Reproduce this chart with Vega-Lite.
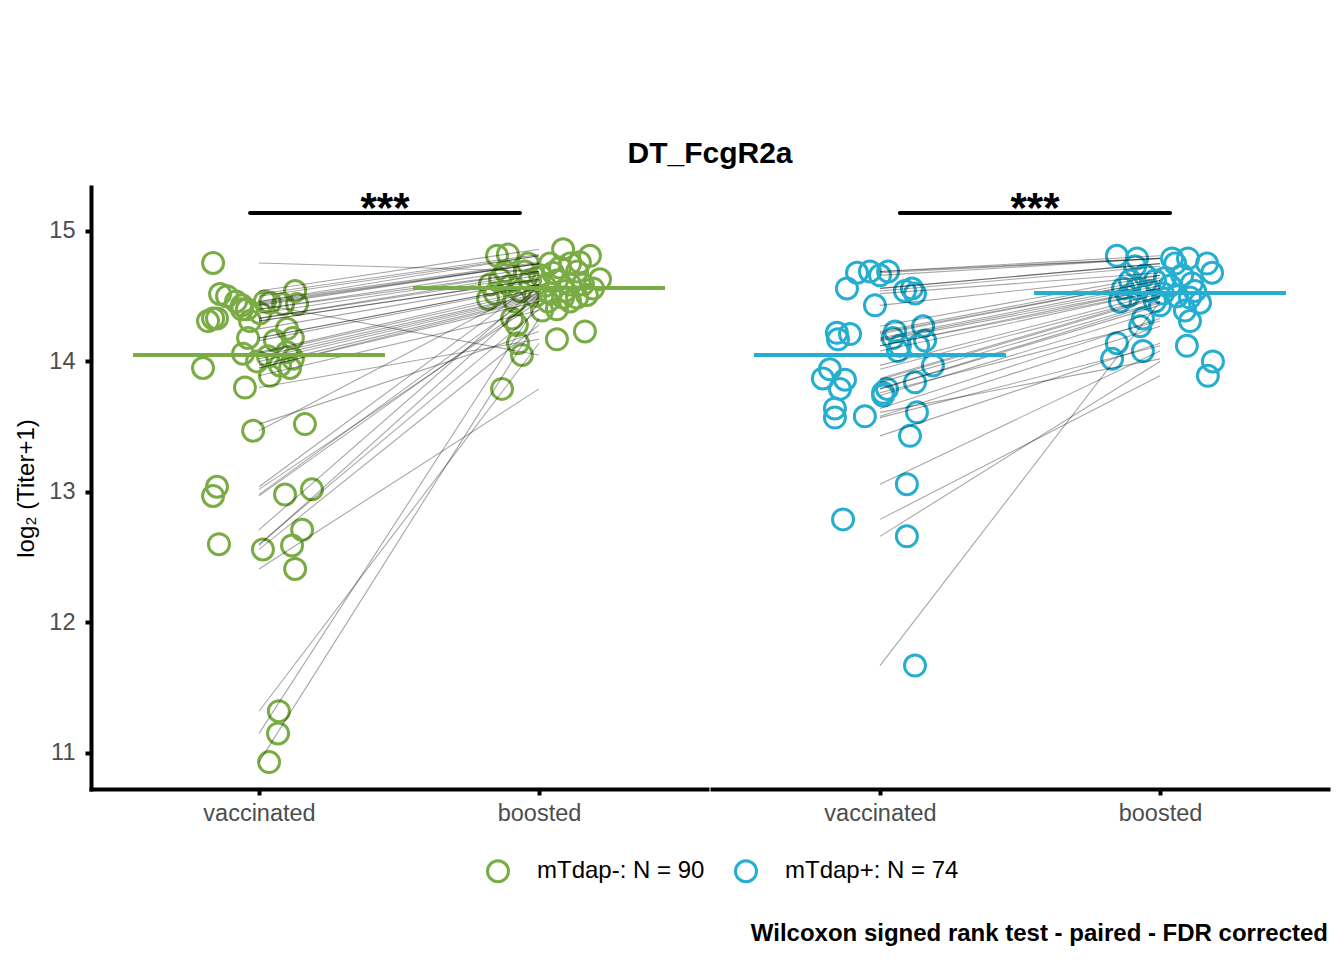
{
  "$schema": "https://vega.github.io/schema/vega-lite/v6.json",
  "autosize": {"type": "pad"},
  "padding": {"left": 14, "top": 139, "right": 16, "bottom": 10},
  "background": "white",
  "title": {
    "text": "DT_FcgR2a",
    "anchor": "middle",
    "frame": "group",
    "dx": 619,
    "fontSize": 30,
    "fontWeight": "bold",
    "color": "black",
    "offset": 18
  },
  "config": {
    "font": "Liberation Sans",
    "view": {"stroke": null},
    "axis": {
      "grid": false,
      "domainColor": "black",
      "domainWidth": 4,
      "domainCap": "square",
      "tickColor": "black",
      "tickWidth": 4,
      "tickSize": 6,
      "labelFontSize": 23.5,
      "labelColor": "#4D4D4D",
      "titleFontSize": 24,
      "titleFontWeight": "normal",
      "titleColor": "black"
    }
  },
  "datasets": {
    "pairs": [
      {"group": "mTdap-", "vaccinated": 10.93, "jit_v": 0.036, "boosted": 14.33, "jit_b": -0.096},
      {"group": "mTdap-", "vaccinated": 11.15, "jit_v": 0.068, "boosted": 14.46, "jit_b": 0.111},
      {"group": "mTdap-", "vaccinated": 11.32, "jit_v": 0.071, "boosted": 14.14, "jit_b": -0.075},
      {"group": "mTdap-", "vaccinated": 12.41, "jit_v": 0.129, "boosted": 13.79, "jit_b": -0.132},
      {"group": "mTdap-", "vaccinated": 12.56, "jit_v": 0.014, "boosted": 14.28, "jit_b": -0.079},
      {"group": "mTdap-", "vaccinated": 12.59, "jit_v": 0.118, "boosted": 14.52, "jit_b": 0.039},
      {"group": "mTdap-", "vaccinated": 12.60, "jit_v": -0.143, "boosted": 14.40, "jit_b": 0.064},
      {"group": "mTdap-", "vaccinated": 12.71, "jit_v": 0.154, "boosted": 14.58, "jit_b": -0.104},
      {"group": "mTdap-", "vaccinated": 12.97, "jit_v": -0.164, "boosted": 14.49, "jit_b": 0.086},
      {"group": "mTdap-", "vaccinated": 12.98, "jit_v": 0.093, "boosted": 14.54, "jit_b": -0.068},
      {"group": "mTdap-", "vaccinated": 13.02, "jit_v": 0.189, "boosted": 14.46, "jit_b": -0.086},
      {"group": "mTdap-", "vaccinated": 13.04, "jit_v": -0.15, "boosted": 14.62, "jit_b": 0.064},
      {"group": "mTdap-", "vaccinated": 13.47, "jit_v": -0.021, "boosted": 14.59, "jit_b": 0.111},
      {"group": "mTdap-", "vaccinated": 13.52, "jit_v": 0.164, "boosted": 14.23, "jit_b": 0.164},
      {"group": "mTdap-", "vaccinated": 13.80, "jit_v": -0.05, "boosted": 14.17, "jit_b": 0.064},
      {"group": "mTdap-", "vaccinated": 14.755, "jit_v": -0.164, "boosted": 14.69, "jit_b": -0.121},
      {"group": "mTdap-", "vaccinated": 14.54, "jit_v": 0.129, "boosted": 14.86, "jit_b": 0.086},
      {"group": "mTdap-", "vaccinated": 14.517, "jit_v": -0.139, "boosted": 14.82, "jit_b": -0.111},
      {"group": "mTdap-", "vaccinated": 14.50, "jit_v": -0.114, "boosted": 14.81, "jit_b": -0.15},
      {"group": "mTdap-", "vaccinated": 14.46, "jit_v": -0.082, "boosted": 14.81, "jit_b": 0.182},
      {"group": "mTdap-", "vaccinated": 14.46, "jit_v": 0.021, "boosted": 14.76, "jit_b": 0.146},
      {"group": "mTdap-", "vaccinated": 14.45, "jit_v": 0.039, "boosted": 14.75, "jit_b": 0.039},
      {"group": "mTdap-", "vaccinated": 14.44, "jit_v": 0.086, "boosted": 14.05, "jit_b": -0.061},
      {"group": "mTdap-", "vaccinated": 14.44, "jit_v": 0.136, "boosted": 14.75, "jit_b": 0.111},
      {"group": "mTdap-", "vaccinated": 14.43, "jit_v": -0.061, "boosted": 14.75, "jit_b": -0.039},
      {"group": "mTdap-", "vaccinated": 14.40, "jit_v": -0.061, "boosted": 14.72, "jit_b": 0.075},
      {"group": "mTdap-", "vaccinated": 14.40, "jit_v": -0.043, "boosted": 14.69, "jit_b": 0.136},
      {"group": "mTdap-", "vaccinated": 14.37, "jit_v": 0.004, "boosted": 14.69, "jit_b": -0.05},
      {"group": "mTdap-", "vaccinated": 14.33, "jit_v": -0.164, "boosted": 14.68, "jit_b": 0.05},
      {"group": "mTdap-", "vaccinated": 14.33, "jit_v": -0.15, "boosted": 14.66, "jit_b": 0.004},
      {"group": "mTdap-", "vaccinated": 14.31, "jit_v": -0.182, "boosted": 14.63, "jit_b": -0.139},
      {"group": "mTdap-", "vaccinated": 14.31, "jit_v": -0.032, "boosted": 14.63, "jit_b": 0.218},
      {"group": "mTdap-", "vaccinated": 14.25, "jit_v": 0.10, "boosted": 14.62, "jit_b": -0.032},
      {"group": "mTdap-", "vaccinated": 14.18, "jit_v": 0.121, "boosted": 14.59, "jit_b": 0.157},
      {"group": "mTdap-", "vaccinated": 14.18, "jit_v": -0.039, "boosted": 14.59, "jit_b": -0.175},
      {"group": "mTdap-", "vaccinated": 14.16, "jit_v": 0.057, "boosted": 14.58, "jit_b": 0.021},
      {"group": "mTdap-", "vaccinated": 14.07, "jit_v": 0.10, "boosted": 14.56, "jit_b": 0.193},
      {"group": "mTdap-", "vaccinated": 14.06, "jit_v": -0.057, "boosted": 14.54, "jit_b": 0.093},
      {"group": "mTdap-", "vaccinated": 14.04, "jit_v": 0.032, "boosted": 14.52, "jit_b": -0.157},
      {"group": "mTdap-", "vaccinated": 14.02, "jit_v": 0.121, "boosted": 14.51, "jit_b": 0.171},
      {"group": "mTdap-", "vaccinated": 14.00, "jit_v": -0.007, "boosted": 14.50, "jit_b": -0.014},
      {"group": "mTdap-", "vaccinated": 13.97, "jit_v": 0.075, "boosted": 14.49, "jit_b": 0.136},
      {"group": "mTdap-", "vaccinated": 13.95, "jit_v": -0.20, "boosted": 14.48, "jit_b": -0.182},
      {"group": "mTdap-", "vaccinated": 13.95, "jit_v": 0.111, "boosted": 14.46, "jit_b": 0.032},
      {"group": "mTdap-", "vaccinated": 13.89, "jit_v": 0.039, "boosted": 14.39, "jit_b": 0.011},
      {"group": "mTdap+", "vaccinated": 11.67, "jit_v": 0.125, "boosted": 14.46, "jit_b": -0.143},
      {"group": "mTdap+", "vaccinated": 12.66, "jit_v": 0.096, "boosted": 14.00, "jit_b": 0.189},
      {"group": "mTdap+", "vaccinated": 12.79, "jit_v": -0.132, "boosted": 13.89, "jit_b": 0.171},
      {"group": "mTdap+", "vaccinated": 13.06, "jit_v": 0.096, "boosted": 14.08, "jit_b": -0.061},
      {"group": "mTdap+", "vaccinated": 13.43, "jit_v": 0.107, "boosted": 14.14, "jit_b": -0.154},
      {"group": "mTdap+", "vaccinated": 13.57, "jit_v": -0.161, "boosted": 14.12, "jit_b": 0.096},
      {"group": "mTdap+", "vaccinated": 13.58, "jit_v": -0.054, "boosted": 14.27, "jit_b": -0.071},
      {"group": "mTdap+", "vaccinated": 13.61, "jit_v": 0.132, "boosted": 14.02, "jit_b": -0.171},
      {"group": "mTdap+", "vaccinated": 13.64, "jit_v": -0.161, "boosted": 14.33, "jit_b": -0.061},
      {"group": "mTdap+", "vaccinated": 13.74, "jit_v": 0.011, "boosted": 14.39, "jit_b": 0.089},
      {"group": "mTdap+", "vaccinated": 13.76, "jit_v": 0.011, "boosted": 14.31, "jit_b": 0.107},
      {"group": "mTdap+", "vaccinated": 13.79, "jit_v": -0.143, "boosted": 14.43, "jit_b": 0.0},
      {"group": "mTdap+", "vaccinated": 13.79, "jit_v": 0.025, "boosted": 14.45, "jit_b": 0.143},
      {"group": "mTdap+", "vaccinated": 13.84, "jit_v": 0.125, "boosted": 14.46, "jit_b": -0.018},
      {"group": "mTdap+", "vaccinated": 13.86, "jit_v": -0.125, "boosted": 14.49, "jit_b": 0.107},
      {"group": "mTdap+", "vaccinated": 13.87, "jit_v": -0.204, "boosted": 14.50, "jit_b": 0.061},
      {"group": "mTdap+", "vaccinated": 13.94, "jit_v": -0.179, "boosted": 14.50, "jit_b": -0.114},
      {"group": "mTdap+", "vaccinated": 13.97, "jit_v": 0.189, "boosted": 14.52, "jit_b": 0.011},
      {"group": "mTdap+", "vaccinated": 14.08, "jit_v": 0.064, "boosted": 14.54, "jit_b": -0.036},
      {"group": "mTdap+", "vaccinated": 14.12, "jit_v": 0.071, "boosted": 14.54, "jit_b": 0.125},
      {"group": "mTdap+", "vaccinated": 14.12, "jit_v": 0.136, "boosted": 14.56, "jit_b": -0.132},
      {"group": "mTdap+", "vaccinated": 14.16, "jit_v": 0.161, "boosted": 14.56, "jit_b": -0.082},
      {"group": "mTdap+", "vaccinated": 14.17, "jit_v": -0.15, "boosted": 14.58, "jit_b": 0.036},
      {"group": "mTdap+", "vaccinated": 14.18, "jit_v": 0.046, "boosted": 14.60, "jit_b": 0.114},
      {"group": "mTdap+", "vaccinated": 14.21, "jit_v": -0.107, "boosted": 14.62, "jit_b": -0.107},
      {"group": "mTdap+", "vaccinated": 14.22, "jit_v": -0.154, "boosted": 14.62, "jit_b": -0.018},
      {"group": "mTdap+", "vaccinated": 14.23, "jit_v": 0.054, "boosted": 14.64, "jit_b": 0.018},
      {"group": "mTdap+", "vaccinated": 14.27, "jit_v": 0.154, "boosted": 14.66, "jit_b": 0.079},
      {"group": "mTdap+", "vaccinated": 14.43, "jit_v": -0.018, "boosted": 14.66, "jit_b": -0.054},
      {"group": "mTdap+", "vaccinated": 14.52, "jit_v": 0.125, "boosted": 14.68, "jit_b": 0.186},
      {"group": "mTdap+", "vaccinated": 14.54, "jit_v": 0.089, "boosted": 14.73, "jit_b": -0.089},
      {"group": "mTdap+", "vaccinated": 14.56, "jit_v": -0.118, "boosted": 14.75, "jit_b": 0.168},
      {"group": "mTdap+", "vaccinated": 14.56, "jit_v": 0.114, "boosted": 14.75, "jit_b": 0.054},
      {"group": "mTdap+", "vaccinated": 14.66, "jit_v": 0.0, "boosted": 14.79, "jit_b": -0.082},
      {"group": "mTdap+", "vaccinated": 14.68, "jit_v": -0.082, "boosted": 14.79, "jit_b": 0.043},
      {"group": "mTdap+", "vaccinated": 14.69, "jit_v": 0.029, "boosted": 14.79, "jit_b": 0.10},
      {"group": "mTdap+", "vaccinated": 14.69, "jit_v": -0.036, "boosted": 14.81, "jit_b": -0.154}
    ],
    "medians": [
      {"group": "mTdap-", "time": 1, "median": 14.05},
      {"group": "mTdap-", "time": 2, "median": 14.563},
      {"group": "mTdap+", "time": 1, "median": 14.05},
      {"group": "mTdap+", "time": 2, "median": 14.525}
    ],
    "signif": [
      {"group": "mTdap-", "from": 0.968, "to": 1.932, "y": 15.138, "label": "***"},
      {"group": "mTdap+", "from": 1.071, "to": 2.036, "y": 15.138, "label": "***"}
    ]
  },
  "spacing": 5,
  "hconcat": [
    {
      "width": 616,
      "height": 602,
      "layer": [
        {
          "data": {"name": "pairs"},
          "transform": [
            {"filter": "datum.group === 'mTdap-'"},
            {"calculate": "1 + datum.jit_v", "as": "xpos"}
          ],
          "mark": {"type": "point", "shape": "circle", "filled": false, "size": 441, "strokeWidth": 3, "opacity": 1},
          "encoding": {
            "x": {
              "field": "xpos", "type": "quantitative",
              "scale": {"domain": [0.4, 2.6], "nice": false, "zero": false},
              "axis": {"values": [1, 2], "labelExpr": "datum.value == 1 ? 'vaccinated' : 'boosted'", "title": null, "labelPadding": 6}
            },
            "y": {
              "field": "vaccinated", "type": "quantitative",
              "scale": {"domain": [10.724, 15.337], "nice": false, "zero": false},
              "axis": {"values": [11, 12, 13, 14, 15], "format": "d", "title": "log₂ (Titer+1)", "labelPadding": 10, "titlePadding": 10}
            },
            "color": {
              "field": "group", "type": "nominal",
              "scale": {"domain": ["mTdap-", "mTdap+"], "range": ["#79AC44", "#25AECF"]},
              "legend": {
                "title": null,
                "orient": "none",
                "direction": "horizontal",
                "legendX": 395,
                "legendY": 672,
                "symbolType": "circle",
                "symbolSize": 441,
                "symbolStrokeWidth": 3,
                "labelFontSize": 24,
                "labelColor": "black",
                "labelLimit": 400,
                "labelOffset": 27,
                "columnPadding": 24,
                "labelExpr": "datum.label == 'mTdap-' ? 'mTdap-: N = 90' : 'mTdap+: N = 74'"
              }
            }
          }
        },
        {
          "data": {"name": "pairs"},
          "transform": [
            {"filter": "datum.group === 'mTdap-'"},
            {"calculate": "2 + datum.jit_b", "as": "xpos"}
          ],
          "mark": {"type": "point", "shape": "circle", "filled": false, "size": 441, "strokeWidth": 3, "opacity": 1},
          "encoding": {
            "x": {"field": "xpos", "type": "quantitative"},
            "y": {"field": "boosted", "type": "quantitative"},
            "color": {"field": "group", "type": "nominal"}
          }
        },
        {
          "data": {"name": "pairs"},
          "transform": [{"filter": "datum.group === 'mTdap-'"}],
          "mark": {"type": "rule", "color": "black", "opacity": 0.35, "strokeWidth": 1.1},
          "encoding": {
            "x": {"datum": 1, "type": "quantitative"},
            "x2": {"datum": 2},
            "y": {"field": "vaccinated", "type": "quantitative"},
            "y2": {"field": "boosted"}
          }
        },
        {
          "data": {"name": "medians"},
          "transform": [
            {"filter": "datum.group === 'mTdap-'"},
            {"calculate": "datum.time - 0.45", "as": "lo"},
            {"calculate": "datum.time + 0.45", "as": "hi"}
          ],
          "mark": {"type": "rule", "color": "#79AC44", "strokeWidth": 4},
          "encoding": {
            "x": {"field": "lo", "type": "quantitative"},
            "x2": {"field": "hi"},
            "y": {"field": "median", "type": "quantitative"}
          }
        },
        {
          "data": {"name": "signif"},
          "transform": [{"filter": "datum.group === 'mTdap-'"}],
          "mark": {"type": "rule", "color": "black", "strokeWidth": 4, "strokeCap": "round"},
          "encoding": {
            "x": {"field": "from", "type": "quantitative"},
            "x2": {"field": "to"},
            "y": {"field": "y", "type": "quantitative"}
          }
        },
        {
          "data": {"name": "signif"},
          "transform": [
            {"filter": "datum.group === 'mTdap-'"},
            {"calculate": "(datum.from + datum.to) / 2", "as": "mid"}
          ],
          "mark": {"type": "text", "fontSize": 42, "fontWeight": "bold", "baseline": "alphabetic", "dy": 9, "color": "black"},
          "encoding": {
            "x": {"field": "mid", "type": "quantitative"},
            "y": {"field": "y", "type": "quantitative"},
            "text": {"field": "label"}
          }
        }
      ]
    },
    {
      "width": 616,
      "height": 602,
      "title": {
        "text": "Wilcoxon signed rank test - paired - FDR corrected",
        "orient": "bottom",
        "anchor": "end",
        "frame": "group",
        "fontSize": 24,
        "fontWeight": "bold",
        "color": "black",
        "offset": 97
      },
      "layer": [
        {
          "data": {"name": "pairs"},
          "transform": [
            {"filter": "datum.group === 'mTdap+'"},
            {"calculate": "1 + datum.jit_v", "as": "xpos"}
          ],
          "mark": {"type": "point", "shape": "circle", "filled": false, "size": 441, "strokeWidth": 3, "opacity": 1},
          "encoding": {
            "x": {
              "field": "xpos", "type": "quantitative",
              "scale": {"domain": [0.4, 2.6], "nice": false, "zero": false},
              "axis": {"values": [1, 2], "labelExpr": "datum.value == 1 ? 'vaccinated' : 'boosted'", "title": null, "labelPadding": 6}
            },
            "y": {
              "field": "vaccinated", "type": "quantitative",
              "scale": {"domain": [10.724, 15.337], "nice": false, "zero": false},
              "axis": null
            },
            "color": {"field": "group", "type": "nominal"}
          }
        },
        {
          "data": {"name": "pairs"},
          "transform": [
            {"filter": "datum.group === 'mTdap+'"},
            {"calculate": "2 + datum.jit_b", "as": "xpos"}
          ],
          "mark": {"type": "point", "shape": "circle", "filled": false, "size": 441, "strokeWidth": 3, "opacity": 1},
          "encoding": {
            "x": {"field": "xpos", "type": "quantitative"},
            "y": {"field": "boosted", "type": "quantitative"},
            "color": {"field": "group", "type": "nominal"}
          }
        },
        {
          "data": {"name": "pairs"},
          "transform": [{"filter": "datum.group === 'mTdap+'"}],
          "mark": {"type": "rule", "color": "black", "opacity": 0.35, "strokeWidth": 1.1},
          "encoding": {
            "x": {"datum": 1, "type": "quantitative"},
            "x2": {"datum": 2},
            "y": {"field": "vaccinated", "type": "quantitative"},
            "y2": {"field": "boosted"}
          }
        },
        {
          "data": {"name": "medians"},
          "transform": [
            {"filter": "datum.group === 'mTdap+'"},
            {"calculate": "datum.time - 0.45", "as": "lo"},
            {"calculate": "datum.time + 0.45", "as": "hi"}
          ],
          "mark": {"type": "rule", "color": "#25AECF", "strokeWidth": 4},
          "encoding": {
            "x": {"field": "lo", "type": "quantitative"},
            "x2": {"field": "hi"},
            "y": {"field": "median", "type": "quantitative"}
          }
        },
        {
          "data": {"name": "signif"},
          "transform": [{"filter": "datum.group === 'mTdap+'"}],
          "mark": {"type": "rule", "color": "black", "strokeWidth": 4, "strokeCap": "round"},
          "encoding": {
            "x": {"field": "from", "type": "quantitative"},
            "x2": {"field": "to"},
            "y": {"field": "y", "type": "quantitative"}
          }
        },
        {
          "data": {"name": "signif"},
          "transform": [
            {"filter": "datum.group === 'mTdap+'"},
            {"calculate": "(datum.from + datum.to) / 2", "as": "mid"}
          ],
          "mark": {"type": "text", "fontSize": 42, "fontWeight": "bold", "baseline": "alphabetic", "dy": 9, "color": "black"},
          "encoding": {
            "x": {"field": "mid", "type": "quantitative"},
            "y": {"field": "y", "type": "quantitative"},
            "text": {"field": "label"}
          }
        }
      ]
    }
  ]
}
